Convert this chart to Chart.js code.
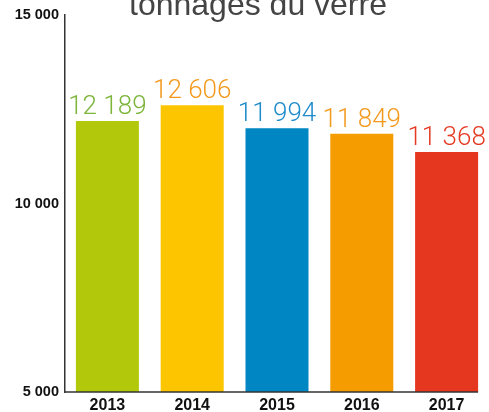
<!DOCTYPE html>
<html>
<head>
<meta charset="utf-8">
<script src="https://cdn.jsdelivr.net/npm/chart.js@4"></script>
<style>
  html, body { margin: 0; padding: 0; background: #fff; }
  #wrap { width: 489px; height: 412px; position: relative; }
</style>
</head>
<body>
<div id="wrap"><canvas id="graphique"></canvas></div>
<script>
const annees = ['2013', '2014', '2015', '2016', '2017'];
const tonnages = [12189, 12606, 11994, 11849, 11368];
const couleursBarres = ['#b1c90a', '#fcc500', '#0086c3', '#f59c00', '#e5361f'];
const couleursValeurs = ['#7cb53a', '#f39a1e', '#1e8bcb', '#f39a1e', '#e53b25'];
const ticksY = [5000, 10000, 15000];
const titre = 'tonnages du verre';

function formatNombre(n) {
    return String(n).replace(/\B(?=(\d{3})+(?!\d))/g, ' ');
}

// etiquettes de valeur, titre et ligne de l'axe x
const etiquettes = {
    id: 'etiquettes',
    afterDatasetsDraw(chart) {
        const ctx = chart.ctx;
        const meta = chart.getDatasetMeta(0);
        const area = chart.chartArea;
        ctx.save();
        // axe x : s'arrete au bord de la derniere barre
        const derniere = meta.data[meta.data.length - 1];
        ctx.strokeStyle = '#333';
        ctx.lineWidth = 1.5;
        ctx.beginPath();
        ctx.moveTo(area.left - 1, area.bottom);
        ctx.lineTo(derniere.x + derniere.width / 2, area.bottom);
        ctx.stroke();

        ctx.font = '300 26px Roboto, "Liberation Sans", sans-serif';
        ctx.textAlign = 'center';
        ctx.textBaseline = 'alphabetic';
        meta.data.forEach((bar, i) => {
            ctx.fillStyle = couleursValeurs[i];
            ctx.fillText(formatNombre(tonnages[i]), bar.x, bar.y - 7);
        });
        ctx.fillStyle = '#444';
        ctx.font = '32px "Liberation Sans", sans-serif';
        ctx.fillText(titre, 258, 15);
        ctx.restore();
    }
};

new Chart(document.getElementById('graphique').getContext('2d'), {
    type: 'bar',
    data: {
        labels: annees,
        datasets: [{
            data: tonnages,
            backgroundColor: couleursBarres,
            borderWidth: 0,
            categoryPercentage: 0.743,
            barPercentage: 1
        }]
    },
    options: {
        responsive: true,
        maintainAspectRatio: false,
        animation: false,
        layout: { padding: { top: 15, right: 0, left: 0, bottom: 0 } },
        plugins: { legend: { display: false }, tooltip: { enabled: false } },
        scales: {
            x: {
                grid: { display: false, drawTicks: false },
                border: { display: false },
                ticks: {
                    color: '#111',
                    padding: 4,
                    font: { family: '"Liberation Sans", Arial, sans-serif', size: 16, weight: 'bold' }
                },
                afterFit(axis) { axis.height = 20; }
            },
            y: {
                min: 5000,
                max: 15000,
                grid: { display: false, drawTicks: false },
                border: { color: '#333', width: 1.5 },
                afterBuildTicks(axis) { axis.ticks = ticksY.map(v => ({ value: v })); },
                ticks: {
                    color: '#111',
                    padding: 6,
                    callback: v => formatNombre(v),
                    font: { family: '"Liberation Sans", Arial, sans-serif', size: 14.5, weight: 'bold' }
                },
                afterFit(axis) { axis.width = 65; }
            }
        }
    },
    plugins: [etiquettes]
});
</script>
</body>
</html>
